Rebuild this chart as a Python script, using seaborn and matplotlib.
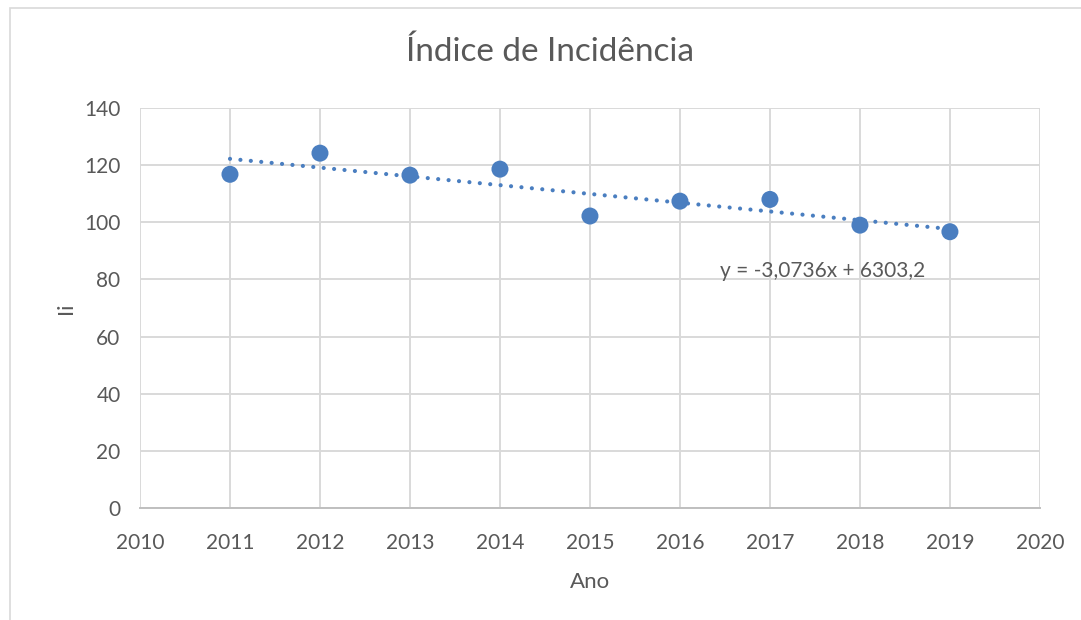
import numpy as np
import pandas as pd
import matplotlib
matplotlib.use("Agg")
import matplotlib.pyplot as plt
import seaborn as sns

anos = [2011, 2012, 2013, 2014, 2015, 2016, 2017, 2018, 2019]
ii = [116.8, 124.2, 116.5, 118.6, 102.2, 107.4, 108.0, 99.0, 96.7]
equacao = "y = -3,0736x + 6303,2"

df = pd.DataFrame({"Ano": anos, "Ii": ii})

sns.set_style("white")
plt.rcParams['font.family'] = ['Lato', 'DejaVu Sans']

cor = "#4A7EC0"
texto = "#595959"

fig = plt.figure(figsize=(10.81, 6.2), dpi=100)
ax = fig.add_axes([0.1295, 0.1806, 0.8325, 0.6452])

# linha de tendencia (ajuste linear)
coef = np.polyfit(df["Ano"], df["Ii"], 1)
tend = pd.DataFrame({"Ano": [anos[0], anos[-1]]})
tend["Ii"] = np.polyval(coef, tend["Ano"])
ax.plot(tend["Ano"], tend["Ii"], color=cor, lw=3.0, linestyle=(0, (0.01, 2.5)),
        dash_capstyle="round", zorder=3)

sns.scatterplot(data=df, x="Ano", y="Ii", ax=ax, color=cor, s=150,
                edgecolor="none", zorder=4)

ax.set_xlim(2010, 2020)
ax.set_ylim(0, 140)
ax.set_xticks(range(2010, 2021))
ax.set_yticks(range(0, 141, 20))
ax.grid(True, color="#D9D9D9", lw=1.4)
ax.set_axisbelow(True)
for s in ["top", "right", "left"]:
    ax.spines[s].set_visible(False)
ax.spines["bottom"].set_color("#BFBFBF")
ax.spines["bottom"].set_linewidth(1.4)
ax.tick_params(axis="both", length=0, labelsize=15, colors=texto)
ax.tick_params(axis="x", pad=18)
ax.tick_params(axis="y", pad=14)

ax.set_xlabel("Ano", fontsize=16, color=texto, labelpad=14)
ax.set_ylabel("Ii", fontsize=16, color=texto, labelpad=6)
fig.text(550 / 1081, 1 - 52 / 620, "Índice de Incidência", fontsize=24,
         color=texto, ha="center", va="center")

ax.text(2016.44, 83, equacao, fontsize=15, color=texto, va="center", ha="left")

# moldura do grafico
fig.patches.append(plt.Rectangle((10 / 1081, -0.1), 1.2, 1 - 8 / 620 + 0.1,
                                 transform=fig.transFigure, fill=False,
                                 edgecolor="#D9D9D9", lw=1.2))

fig.savefig("out.png", dpi=100)
